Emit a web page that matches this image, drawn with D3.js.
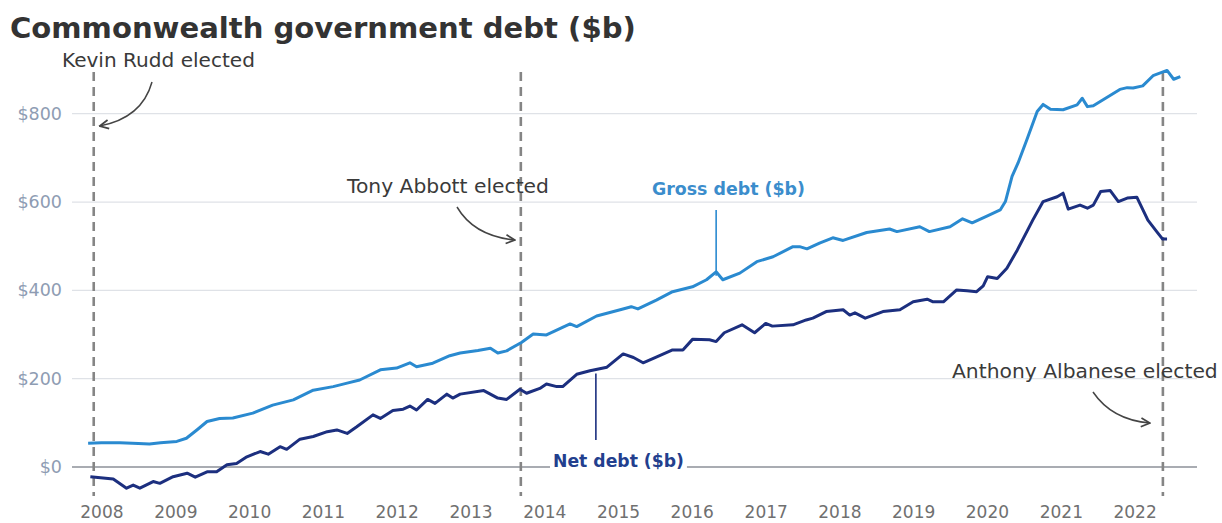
<!DOCTYPE html>
<html>
<head>
<meta charset="utf-8">
<script src="https://cdn.jsdelivr.net/npm/d3@7"></script>
<style>
  html, body { margin: 0; padding: 0; background: #fff; }
  svg { display: block; }
</style>
</head>
<body>
<svg id="chart" width="1222" height="523"></svg>
<script>
// ---------------- DATA ----------------
const title = "Commonwealth government debt ($b)";

// Gross debt ($b): decimal-year stamps and values
const grossYears = [2007.82, 2008.0, 2008.25, 2008.5, 2008.65, 2008.8, 2009.02, 2009.15, 2009.3, 2009.43,
  2009.6, 2009.78, 2010.05, 2010.32, 2010.6, 2010.87, 2011.14, 2011.33, 2011.5, 2011.78,
  2012.0, 2012.18, 2012.27, 2012.49, 2012.72, 2012.86, 2013.1, 2013.27, 2013.37, 2013.49,
  2013.69, 2013.85, 2014.03, 2014.35, 2014.44, 2014.71, 2015.03, 2015.18, 2015.27, 2015.52,
  2015.74, 2016.01, 2016.2, 2016.33, 2016.42, 2016.65, 2016.88, 2017.1, 2017.37, 2017.46,
  2017.56, 2017.73, 2017.91, 2018.05, 2018.37, 2018.68, 2018.78, 2019.09, 2019.22, 2019.5,
  2019.67, 2019.8, 2020.0, 2020.18, 2020.25, 2020.34, 2020.42, 2020.54, 2020.68, 2020.76,
  2020.86, 2021.03, 2021.22, 2021.29, 2021.36, 2021.44, 2021.8, 2021.9, 2021.98, 2022.11,
  2022.25, 2022.44, 2022.53, 2022.62];
const grossValues = [54, 55, 55, 53, 52, 55, 58, 65, 85, 103,
  110, 111, 122, 140, 152, 174, 182, 190, 197, 220,
  224, 236, 227, 235, 252, 258, 264, 269, 258, 263,
  282, 301, 299, 324, 318, 342, 356, 363, 358, 378,
  397, 408, 424, 442, 424, 439, 465, 476, 499, 499,
  494, 507, 519, 513, 531, 539, 533, 544, 533, 544,
  562, 553, 568, 582, 601, 658, 688, 741, 805, 821,
  810, 809, 820, 835, 816, 818, 855, 859, 858, 863,
  886, 898, 878, 884];

// Net debt ($b)
const netYears = [2007.85, 2008.16, 2008.34, 2008.43, 2008.52, 2008.7, 2008.79, 2008.97, 2009.16, 2009.27,
  2009.43, 2009.56, 2009.7, 2009.83, 2009.97, 2010.15, 2010.26, 2010.42, 2010.51, 2010.69,
  2010.87, 2011.06, 2011.19, 2011.33, 2011.46, 2011.68, 2011.78, 2011.95, 2012.09, 2012.18,
  2012.27, 2012.42, 2012.52, 2012.68, 2012.76, 2012.86, 2013.18, 2013.37, 2013.49, 2013.67,
  2013.76, 2013.94, 2014.03, 2014.17, 2014.25, 2014.44, 2014.62, 2014.85, 2015.07, 2015.21,
  2015.34, 2015.48, 2015.74, 2015.88, 2016.01, 2016.24, 2016.33, 2016.44, 2016.68, 2016.85,
  2017.0, 2017.09, 2017.37, 2017.55, 2017.64, 2017.82, 2018.05, 2018.14, 2018.21, 2018.35,
  2018.59, 2018.82, 2019.0, 2019.19, 2019.27, 2019.41, 2019.59, 2019.73, 2019.86, 2019.95,
  2020.01, 2020.14, 2020.27, 2020.41, 2020.54, 2020.62, 2020.76, 2020.95, 2021.03, 2021.1,
  2021.26, 2021.36, 2021.44, 2021.54, 2021.67, 2021.78, 2021.9, 2022.03, 2022.18, 2022.3,
  2022.38, 2022.44];
const netValues = [-22, -27, -48, -41, -48, -33, -37, -22, -14, -23,
  -11, -11, 5, 8, 23, 35, 29, 46, 40, 63,
  69, 80, 84, 76, 91, 118, 110, 128, 131, 138,
  129, 153, 144, 165, 156, 165, 173, 156, 153, 176,
  167, 178, 188, 182, 182, 210, 218, 226, 256, 248,
  236, 246, 265, 265, 289, 288, 284, 304, 322, 304,
  325, 319, 322, 333, 337, 352, 356, 344, 349, 337,
  352, 356, 374, 380, 374, 374, 401, 399, 397, 410,
  431, 427, 450, 491, 533, 559, 601, 612, 620, 584,
  593, 586, 593, 624, 626, 601, 609, 611, 559, 533,
  516, 516];

const yTicks = [0, 200, 400, 600, 800];
const electionLabels = ["Kevin Rudd elected", "Tony Abbott elected", "Anthony Albanese elected"];
const electionDates = ["2007-11-24", "2013-09-07", "2022-05-21"];
const seriesLabels = ["Gross debt ($b)", "Net debt ($b)"];
const seriesLabelYears = [2016.33, 2014.7];

// ---------------- helpers ----------------
function dy(t) {
  const y = Math.floor(t);
  const s = new Date(y, 0, 1), e = new Date(y + 1, 0, 1);
  return new Date(+s + (t - y) * (e - s));
}
function fit(sel, w) {
  const cur = +sel.attr("font-size");
  const m = sel.node().getComputedTextLength();
  if (m > 0) sel.attr("font-size", cur * w / m);
  return sel;
}
const gross = grossYears.map((t, i) => ({ date: dy(t), value: grossValues[i] }));
const net = netYears.map((t, i) => ({ date: dy(t), value: netValues[i] }));
const elections = electionDates.map((d, i) => ({ date: d3.timeParse("%Y-%m-%d")(d), label: electionLabels[i] }));

const GROSS = "#2a8ad0", NET = "#1c2f7f";
const FONT = "'DejaVu Sans', sans-serif";

const svg = d3.select("#chart");
const x = d3.scaleTime().domain([new Date(2008, 0, 1), new Date(2022, 0, 1)]).range([101.4, 1134.6]);
const y = d3.scaleLinear().domain([0, 800]).range([467, 113.7]);
const plotL = 72, plotR = 1197;

// Title
fit(svg.append("text").attr("x", 10).attr("y", 38)
  .attr("font-family", FONT).attr("font-weight", 700)
  .attr("font-size", 28).attr("fill", "#333").text(title), 626);

// Gridlines
svg.append("g").selectAll("line").data(yTicks.filter(d => d !== 0)).join("line")
  .attr("x1", plotL).attr("x2", plotR).attr("y1", d => y(d)).attr("y2", d => y(d))
  .attr("stroke", "#dfe2e7").attr("stroke-width", 1.2);

// Y axis labels
const yAxis = svg.append("g").attr("transform", "translate(62,0)")
  .call(d3.axisLeft(y).tickValues(yTicks).tickFormat(d => "$" + d).tickSize(0).tickPadding(0));
yAxis.select(".domain").remove();
yAxis.selectAll("text").attr("font-family", FONT).attr("font-size", 17.5).attr("fill", "#8e9cb3");

// X axis labels
const xAxis = svg.append("g").attr("transform", "translate(0,491)")
  .call(d3.axisBottom(x).ticks(d3.timeYear.every(1)).tickFormat(d3.timeFormat("%Y")).tickSize(0).tickPadding(15));
xAxis.select(".domain").remove();
xAxis.selectAll("text").attr("font-family", FONT).attr("font-size", 17).attr("fill", "#707070");

// Zero line
svg.append("line").attr("x1", plotL).attr("x2", plotR).attr("y1", y(0)).attr("y2", y(0))
  .attr("stroke", "#555b66").attr("stroke-width", 1.2);

// Election dashed lines
svg.append("g").selectAll("line").data(elections).join("line")
  .attr("x1", d => x(d.date)).attr("x2", d => x(d.date)).attr("y1", 72).attr("y2", 496)
  .attr("stroke", "#858585").attr("stroke-width", 2.6).attr("stroke-dasharray", "9,6");

// Lines
const line = d3.line().x(d => x(d.date)).y(d => y(d.value));
svg.append("path").datum(gross).attr("d", line).attr("fill", "none")
  .attr("stroke", GROSS).attr("stroke-width", 3).attr("stroke-linejoin", "round");
svg.append("path").datum(net).attr("d", line).attr("fill", "none")
  .attr("stroke", NET).attr("stroke-width", 3).attr("stroke-linejoin", "round");

// Arrow marker
svg.append("defs").append("marker").attr("id", "arr")
  .attr("viewBox", "0 0 10 10").attr("refX", 9).attr("refY", 5)
  .attr("markerWidth", 11).attr("markerHeight", 11).attr("markerUnits", "userSpaceOnUse")
  .attr("orient", "auto")
  .append("path").attr("d", "M1,1 L9,5 L1,9").attr("fill", "none")
  .attr("stroke", "#444").attr("stroke-width", 1.6);

// Election annotations
const annX = elections.map(d => x(d.date));
const annText = [
  { x: 62, y: 67, w: 193 }, { x: 347, y: 193, w: 202 }, { x: 952, y: 378, w: 266 }
];
const annArrow = [
  `M152,82 Q142,118 ${annX[0] + 6},126`,
  `M457,207 Q474,236 ${annX[1] - 6},240`,
  `M1093,392 Q1112,420 ${annX[2] - 13},423`
];
elections.forEach((d, i) => {
  fit(svg.append("text").attr("x", annText[i].x).attr("y", annText[i].y)
    .attr("font-family", FONT).attr("font-size", 18).attr("fill", "#3a3a3a").text(d.label), annText[i].w);
  svg.append("path").attr("d", annArrow[i]).attr("fill", "none")
    .attr("stroke", "#444").attr("stroke-width", 1.5).attr("marker-end", "url(#arr)");
});

// Series labels
const gx = x(dy(seriesLabelYears[0]));
svg.append("line").attr("x1", gx).attr("x2", gx).attr("y1", 210).attr("y2", y(442) + 4)
  .attr("stroke", GROSS).attr("stroke-width", 1.6);
fit(svg.append("text").attr("x", 652).attr("y", 195)
  .attr("font-family", FONT).attr("font-weight", 700).attr("font-size", 18)
  .attr("fill", "#3b8dcc").text(seriesLabels[0]), 153);

const nx = x(dy(seriesLabelYears[1]));
svg.append("line").attr("x1", nx).attr("x2", nx).attr("y1", y(221) + 4).attr("y2", 440)
  .attr("stroke", NET).attr("stroke-width", 1.6);
const nl = fit(svg.append("text").attr("x", 553).attr("y", 467)
  .attr("font-family", FONT).attr("font-weight", 700).attr("font-size", 18)
  .attr("fill", "#233f8e").text(seriesLabels[1]), 131);
const bb = nl.node().getBBox();
svg.insert("rect", () => nl.node()).attr("x", bb.x - 3).attr("y", y(0) - 3)
  .attr("width", bb.width + 6).attr("height", 6).attr("fill", "#fff");
</script>
</body>
</html>
